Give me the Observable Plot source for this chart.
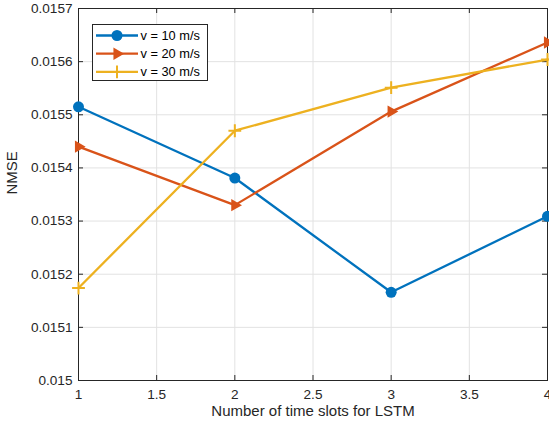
<!DOCTYPE html>
<html><head><meta charset="utf-8">
<script src="https://cdn.jsdelivr.net/npm/d3@7"></script>
<script src="https://cdn.jsdelivr.net/npm/@observablehq/plot@0.6"></script>
<style>body{margin:0;background:#fff} svg{display:block;overflow:visible}</style>
</head><body><div id="chart"></div>
<script>
const slots = [1, 2, 3, 4];
const nmse10 = [0.015515, 0.015381, 0.015166, 0.015309];
const nmse20 = [0.015440, 0.015330, 0.015506, 0.015636];
const nmse30 = [0.015174, 0.015470, 0.015551, 0.015604];
const seriesNames = ["v = 10 m/s", "v = 20 m/s", "v = 30 m/s"];
const seriesColors = ["#0072BD", "#D95319", "#EDB120"];
const xTicks = [1, 1.5, 2, 2.5, 3, 3.5, 4];
const xTickLabels = ["1", "1.5", "2", "2.5", "3", "3.5", "4"];
const yTicks = [0.015, 0.0151, 0.0152, 0.0153, 0.0154, 0.0155, 0.0156, 0.0157];
const yTickLabels = ["0.015", "0.0151", "0.0152", "0.0153", "0.0154", "0.0155", "0.0156", "0.0157"];
const xLabel = "Number of time slots for LSTM";
const yLabel = "NMSE";

const allSeries = [nmse10, nmse20, nmse30];
const rows = [];
allSeries.forEach((vals, s) => vals.forEach((v, i) => rows.push({x: slots[i], y: v, s})));

const xDom = [1, 4], yDom = [0.015, 0.0157];
const W = 549, H = 428, mL = 78, mR = 2, mT = 8, mB = 48;
const tickLenY = (yDom[1] - yDom[0]) * 5 / (H - mT - mB);
const tickLenX = (xDom[1] - xDom[0]) * 5 / (W - mL - mR);
const axisColor = "#262626";
const font = "'Liberation Sans', Arial, Helvetica, sans-serif";

const byS = s => rows.filter(r => r.s === s);

const chart = Plot.plot({
  width: W, height: H,
  marginLeft: mL, marginRight: mR, marginTop: mT, marginBottom: mB,
  style: {fontFamily: font, fontSize: "13.6px", color: axisColor, background: "#fff"},
  x: {domain: xDom, ticks: xTicks, label: null},
  y: {domain: yDom, ticks: yTicks, label: null},
  marks: [
    Plot.gridX(xTicks, {stroke: "#e2e2e2", strokeOpacity: 1}),
    Plot.gridY(yTicks, {stroke: "#e2e2e2", strokeOpacity: 1}),
    Plot.frame({stroke: axisColor, strokeWidth: 1}),
    Plot.ruleX(xTicks, {x: d => d, y1: yDom[0], y2: yDom[0] + tickLenY, stroke: axisColor}),
    Plot.ruleX(xTicks, {x: d => d, y1: yDom[1] - tickLenY, y2: yDom[1], stroke: axisColor}),
    Plot.ruleY(yTicks, {y: d => d, x1: xDom[0], x2: xDom[0] + tickLenX, stroke: axisColor}),
    Plot.ruleY(yTicks, {y: d => d, x1: xDom[1] - tickLenX, x2: xDom[1], stroke: axisColor}),
    Plot.axisX(xTicks, {tickSize: 0, tickPadding: 9, tickFormat: (d, i) => xTickLabels[i], fill: axisColor, label: null}),
    Plot.axisY(yTicks, {tickSize: 0, tickPadding: 6, tickFormat: (d, i) => yTickLabels[i], fill: axisColor, label: null}),
    Plot.text([xLabel], {frameAnchor: "bottom", dy: 35, fontSize: 15, fill: axisColor}),
    Plot.text([yLabel], {frameAnchor: "left", dx: -66, rotate: -90, fontSize: 15, fill: axisColor}),
    ...[0, 1, 2].map(s => Plot.line(byS(s), {x: "x", y: "y", stroke: seriesColors[s], strokeWidth: 2.3})),
    Plot.dot(byS(0), {x: "x", y: "y", r: 5.5, fill: seriesColors[0], symbol: "circle"}),
    Plot.dot(byS(1), {x: "x", y: "y", r: 4.6, fill: seriesColors[1], symbol: "triangle", rotate: 90}),
    Plot.dot(byS(2), {x: "x", y: "y", r: 4.2, stroke: seriesColors[2], strokeWidth: 2, fill: "none", symbol: "plus"})
  ]
});

// Legend inside the axes
const svg = d3.select(chart);
const g = svg.append("g").attr("font-family", font).attr("font-size", "12.8px").attr("text-anchor", "start");
g.append("rect").attr("x", 92.5).attr("y", 24.5).attr("width", 115).attr("height", 56)
  .attr("fill", "#fff").attr("stroke", axisColor).attr("stroke-width", 1);
const symbols = [
  {type: d3.symbolCircle, size: Math.PI * 5.5 * 5.5, fill: seriesColors[0], stroke: "none", rot: 0},
  {type: d3.symbolTriangle, size: Math.PI * 4.6 * 4.6, fill: seriesColors[1], stroke: "none", rot: 90},
  {type: d3.symbolPlus, size: Math.PI * 4.2 * 4.2, fill: "none", stroke: seriesColors[2], rot: 0}
];
seriesNames.forEach((name, i) => {
  const cy = 35.5 + i * 18.2;
  g.append("line").attr("x1", 96).attr("x2", 138).attr("y1", cy).attr("y2", cy)
    .attr("stroke", seriesColors[i]).attr("stroke-width", 2.3);
  const sm = symbols[i];
  g.append("path").attr("d", d3.symbol(sm.type, sm.size)())
    .attr("transform", `translate(117,${cy}) rotate(${sm.rot})`)
    .attr("fill", sm.fill).attr("stroke", sm.stroke).attr("stroke-width", 2);
  g.append("text").attr("x", 140.5).attr("y", cy).attr("dy", "0.35em")
    .attr("text-anchor", "start").attr("fill", "#000").text(name);
});

document.getElementById("chart").appendChild(chart);
</script>
</body></html>
